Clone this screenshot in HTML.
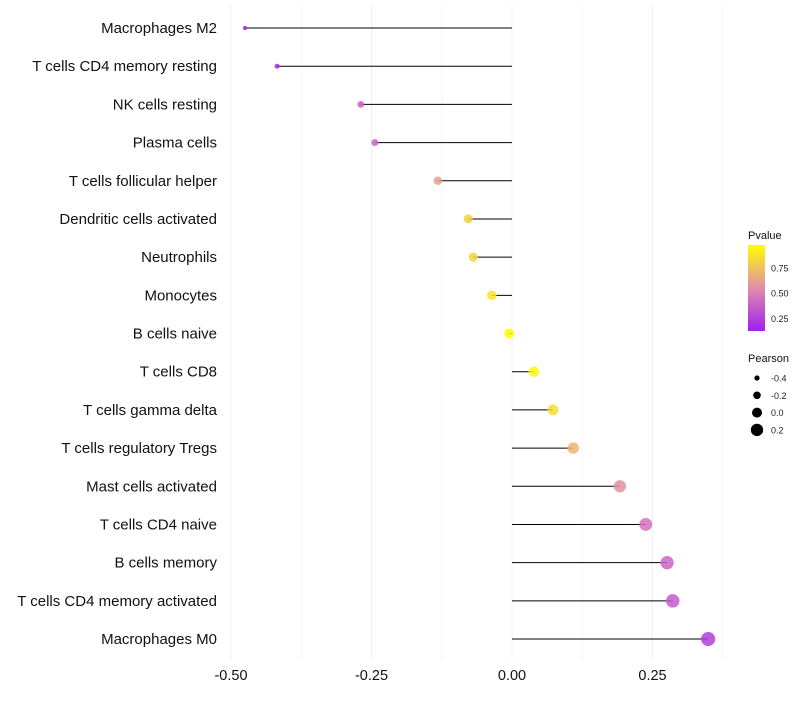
<!DOCTYPE html>
<html><head><meta charset="utf-8"><style>
body{margin:0;background:#fff;font-family:"Liberation Sans",sans-serif}
</style></head><body>
<svg id="chart" width="800" height="700" xmlns="http://www.w3.org/2000/svg"></svg>
<script>
const categories=["Macrophages M2","T cells CD4 memory resting","NK cells resting","Plasma cells","T cells follicular helper","Dendritic cells activated","Neutrophils","Monocytes","B cells naive","T cells CD8","T cells gamma delta","T cells regulatory  Tregs ","Mast cells activated","T cells CD4 naive","B cells memory","T cells CD4 memory activated","Macrophages M0"];
const pearson=[-0.475,-0.418,-0.269,-0.244,-0.132,-0.078,-0.069,-0.036,-0.005,0.039,0.073,0.109,0.192,0.238,0.276,0.286,0.349];
const pvalues=[0.13,0.15,0.38,0.4,0.63,0.8,0.82,0.88,0.98,0.95,0.85,0.7,0.57,0.45,0.4,0.35,0.25];
const xTicks=[-0.5,-0.25,0,0.25];
const xTickLabels=["-0.50","-0.25","0.00","0.25"];
const legendP=[0.25,0.5,0.75];
const legendSizes=[-0.4,-0.2,0.0,0.2];

const NS="http://www.w3.org/2000/svg";
const svg=document.getElementById('chart');
const x=v=>512+v*562;
const y=i=>28+i*38.19;
const r=v=>Math.max(1.5,5+6*v);
const pMin=0.128,pMax=0.975;
function lerp(a,b,t){return a+(b-a)*t}
const stops=[[0,[160,32,240]],[0.5,[226,140,170]],[1,[255,255,0]]];
function col(p){let t=Math.min(1,Math.max(0,(p-pMin)/(pMax-pMin)));let s0=t<=0.5?stops[0]:stops[1],s1=t<=0.5?stops[1]:stops[2];let u=(t-s0[0])/(s1[0]-s0[0]);return 'rgb('+s0[1].map((c,k)=>Math.round(lerp(c,s1[1][k],u))).join(',')+')';}
function el(t,a,txt){const e=document.createElementNS(NS,t);for(const k in a)e.setAttribute(k,a[k]);if(txt!==undefined)e.textContent=txt;svg.appendChild(e);return e;}

for(let v=-0.5;v<=0.38;v+=0.125){
 const g=el('line',{x1:x(v),x2:x(v),y1:5,y2:660,stroke:'#f0f0f0','stroke-width':Math.abs((v*4)%1)<0.01?1:0.6});
 
 
}
xTicks.forEach((v,i)=>{
 const t=el('text',{x:x(v),y:680,'text-anchor':'middle','font-size':14.5,fill:'#111'},xTickLabels[i]);
 
 
});
categories.forEach((c,i)=>{
 const t=el('text',{x:217,y:y(i)+5,'text-anchor':'end','font-size':15,fill:'#111'},c);
 
 
 const l=el('line',{x1:x(0),x2:x(pearson[i]),y1:y(i),y2:y(i),stroke:'#000','stroke-width':1});
 
 
 const d=el('circle',{cx:x(pearson[i]),cy:y(i),r:r(pearson[i]),fill:col(pvalues[i]),'fill-opacity':0.85});
 
 
});
const defs=el('defs',{});
const gr=document.createElementNS(NS,'linearGradient');gr.setAttribute('id','pg');gr.setAttribute('x1','0');gr.setAttribute('y1','1');gr.setAttribute('x2','0');gr.setAttribute('y2','0');
stops.forEach(s=>{const st=document.createElementNS(NS,'stop');st.setAttribute('offset',s[0]);st.setAttribute('stop-color','rgb('+s[1].join(',')+')');gr.appendChild(st);});
defs.appendChild(gr);
const lt=el('text',{x:748,y:239,'font-size':11,fill:'#111'},'Pvalue');


const bar=el('rect',{x:748,y:245,width:17,height:86,fill:'url(#pg)'});


const ly=p=>331-(p-pMin)/(pMax-pMin)*86;
legendP.forEach(p=>{
 const t=el('text',{x:771,y:ly(p)+3.5,'font-size':9,fill:'#222'},p.toFixed(2));
 
 
});
const st=el('text',{x:748,y:362,'font-size':11,fill:'#111'},'Pearson');


legendSizes.forEach((v,i)=>{
 const cy=378+i*17.3;
 const c=el('circle',{cx:757,cy:cy,r:r(v),fill:'#000'});
 
 
 const t=el('text',{x:771,y:cy+3.5,'font-size':9,fill:'#222'},v.toFixed(1));
 
 
});
</script>
</body></html>
